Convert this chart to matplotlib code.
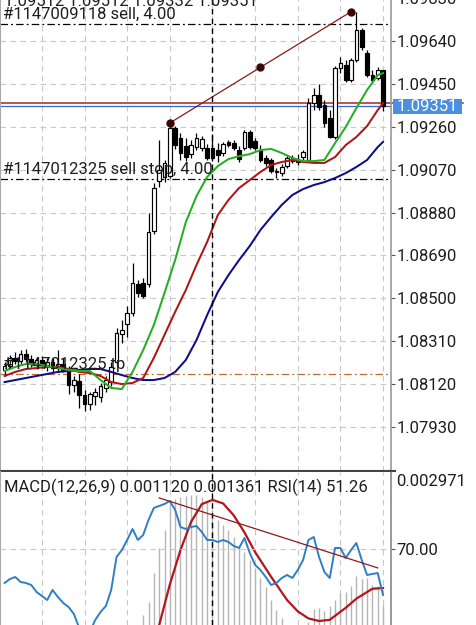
import numpy as np
import matplotlib
matplotlib.use("Agg")
import matplotlib.pyplot as plt
from matplotlib.lines import Line2D
from matplotlib.transforms import blended_transform_factory

plt.rcParams['font.family'] = ['Roboto', 'DejaVu Sans']

# ---- candles (oldest first) ----
opens = [
    1.08183, 1.08200, 1.08236, 1.08222, 1.08253, 1.08231, 1.08214, 1.08227, 1.08205, 1.08218,
    1.08191, 1.08209, 1.08178, 1.08116, 1.08134, 1.08072, 1.08032, 1.08067, 1.08063, 1.08103,
    1.08129, 1.08218, 1.08342, 1.08386, 1.08435, 1.08564, 1.08568, 1.08564, 1.08798, 1.09020,
    1.09038, 1.09042, 1.09255, 1.09210, 1.09175, 1.09139, 1.09170, 1.09166, 1.09166, 1.09166,
    1.09157, 1.09144, 1.09193, 1.09188, 1.09157, 1.09166, 1.09237, 1.09197, 1.09157, 1.09122,
    1.09113, 1.09064, 1.09055, 1.09086, 1.09108, 1.09113, 1.09126, 1.09113, 1.09365, 1.09401,
    1.09356, 1.09299, 1.09215, 1.09520, 1.09534, 1.09467, 1.09556, 1.09689, 1.09587, 1.09489,
    1.09476, 1.09512]
highs = [
    1.08218, 1.08249, 1.08262, 1.08271, 1.08276, 1.08249, 1.08240, 1.08245, 1.08236, 1.08236,
    1.08271, 1.08236, 1.08200, 1.08156, 1.08165, 1.08094, 1.08085, 1.08103, 1.08125, 1.08156,
    1.08218, 1.08369, 1.08404, 1.08466, 1.08657, 1.08581, 1.08590, 1.08878, 1.09011, 1.09201,
    1.09113, 1.09277, 1.09263, 1.09232, 1.09210, 1.09201, 1.09232, 1.09219, 1.09184, 1.09228,
    1.09188, 1.09193, 1.09201, 1.09201, 1.09175, 1.09246, 1.09246, 1.09210, 1.09179, 1.09135,
    1.09122, 1.09077, 1.09095, 1.09135, 1.09135, 1.09139, 1.09157, 1.09388, 1.09432, 1.09450,
    1.09379, 1.09334, 1.09529, 1.09569, 1.09556, 1.09565, 1.09768, 1.09698, 1.09600, 1.09512,
    1.09525, 1.09512]
lows = [
    1.08156, 1.08191, 1.08209, 1.08209, 1.08218, 1.08196, 1.08187, 1.08191, 1.08178, 1.08174,
    1.08174, 1.08174, 1.08076, 1.08085, 1.08014, 1.08001, 1.08005, 1.08028, 1.08041, 1.08085,
    1.08112, 1.08200, 1.08302, 1.08329, 1.08422, 1.08506, 1.08501, 1.08550, 1.08785, 1.08993,
    1.09015, 1.09033, 1.09162, 1.09113, 1.09108, 1.09122, 1.09157, 1.09153, 1.09113, 1.09108,
    1.09104, 1.09130, 1.09170, 1.09157, 1.09104, 1.09157, 1.09162, 1.09157, 1.09104, 1.09086,
    1.09055, 1.09033, 1.09042, 1.09077, 1.09100, 1.09091, 1.09113, 1.09104, 1.09334, 1.09334,
    1.09259, 1.09210, 1.09206, 1.09498, 1.09458, 1.09458, 1.09547, 1.09600, 1.09481, 1.09458,
    1.09467, 1.09332]
closes = [
    1.08200, 1.08236, 1.08222, 1.08253, 1.08231, 1.08214, 1.08227, 1.08205, 1.08218, 1.08191,
    1.08209, 1.08183, 1.08116, 1.08138, 1.08072, 1.08032, 1.08076, 1.08085, 1.08112, 1.08138,
    1.08196, 1.08346, 1.08360, 1.08435, 1.08568, 1.08524, 1.08510, 1.08794, 1.08989, 1.09069,
    1.09100, 1.09255, 1.09179, 1.09144, 1.09126, 1.09179, 1.09210, 1.09206, 1.09122, 1.09122,
    1.09135, 1.09184, 1.09179, 1.09166, 1.09117, 1.09237, 1.09170, 1.09166, 1.09113, 1.09100,
    1.09064, 1.09060, 1.09082, 1.09122, 1.09122, 1.09104, 1.09148, 1.09365, 1.09401, 1.09348,
    1.09277, 1.09215, 1.09520, 1.09543, 1.09467, 1.09556, 1.09689, 1.09613, 1.09489, 1.09467,
    1.09512, 1.09351]

# ---- moving averages, read every second candle ----
ma_idx = list(range(0, 71, 2)) + [71]
ma_fast = [
    1.08178, 1.08196, 1.08209, 1.08209, 1.08200, 1.08191, 1.08183, 1.08178, 1.08178, 1.08138,
    1.08103, 1.08098, 1.08174, 1.08271, 1.08382, 1.08524, 1.08670, 1.08838, 1.08953, 1.09038,
    1.09086, 1.09117, 1.09130, 1.09139, 1.09157, 1.09162, 1.09144, 1.09122, 1.09108, 1.09108,
    1.09113, 1.09188, 1.09259, 1.09343, 1.09423, 1.09489, 1.09498]
ma_mid = [
    1.08156, 1.08174, 1.08187, 1.08191, 1.08196, 1.08196, 1.08187, 1.08174, 1.08169, 1.08156,
    1.08129, 1.08120, 1.08125, 1.08147, 1.08236, 1.08338, 1.08440, 1.08537, 1.08648, 1.08750,
    1.08869, 1.08936, 1.08989, 1.09024, 1.09060, 1.09091, 1.09104, 1.09113, 1.09104, 1.09100,
    1.09100, 1.09126, 1.09179, 1.09215, 1.09263, 1.09334, 1.09365]
ma_slow = [
    1.08129, 1.08138, 1.08147, 1.08156, 1.08165, 1.08174, 1.08178, 1.08183, 1.08187, 1.08187,
    1.08174, 1.08160, 1.08147, 1.08138, 1.08138, 1.08147, 1.08174, 1.08227, 1.08315, 1.08426,
    1.08528, 1.08603, 1.08670, 1.08732, 1.08803, 1.08860, 1.08914, 1.08958, 1.08984, 1.09002,
    1.09015, 1.09033, 1.09055, 1.09082, 1.09113, 1.09170, 1.09193]

# ---- orders, trend line, price scale ----
sell_level = 1.09715
stop_level = 1.09029
tp_level = 1.08165
ask = 1.09365
bid = 1.09351
trend_idx = [31, 65]
trend_px = [1.09277, 1.09770]
price_ticks = [1.07930, 1.08120, 1.08310, 1.08500, 1.08690, 1.08880,
               1.09070, 1.09260, 1.09450, 1.09640, 1.09830]
cursor_idx = 39

# ---- MACD(12,26,9) and RSI(14) ----
macd_hist = [
    0.00045, 0.00048, 0.00050, 0.00052, 0.00053, 0.00052, 0.00050, 0.00047, 0.00045, 0.00042,
    0.00040, 0.00037, 0.00030, 0.00022, 0.00012, 0.00002, -0.00005, -0.00008, -0.00006, 0.00000,
    0.00010, 0.00025, 0.00040, 0.00055, 0.00068, 0.00078, 0.000978, 0.001163, 0.001574, 0.001928,
    0.002183, 0.002566, 0.002623, 0.002651, 0.002665, 0.002679, 0.002679, 0.002651, 0.002580, 0.002467,
    0.002325, 0.002254, 0.002183, 0.002084, 0.001971, 0.001871, 0.001758, 0.001645, 0.001503, 0.001375,
    0.001191, 0.001049, 0.000936, 0.000800, 0.000750, 0.000730, 0.000760, 0.000879, 0.001063, 0.001077,
    0.001035, 0.001106, 0.001191, 0.001290, 0.001304, 0.001389, 0.001531, 0.001489, 0.001503, 0.001404,
    0.001389, 0.001120]
sig_idx = [29, 31, 33, 35, 37, 39, 41, 43, 45, 47, 50, 53, 55, 57, 59, 61, 64, 66, 69, 71]
macd_signal = [0.000836, 0.00141, 0.00190, 0.00230, 0.00255, 0.00261, 0.00256, 0.00239, 0.00215, 0.00187,
               0.00152, 0.00119, 0.00103, 0.00093, 0.000893, 0.00091, 0.00108, 0.00121, 0.00135, 0.001361]
rsi = [
    56.15, 57.78, 58.59, 56.56, 56.15, 55.34, 52.48, 50.86, 49.23, 53.30,
    50.45, 48.00, 46.37, 43.52, 37.82, 34.97, 36.19, 41.08, 44.34, 46.78,
    53.30, 66.74, 69.59, 73.67, 78.15, 73.67, 75.70, 81.81, 86.70, 87.52,
    88.33, 89.55, 85.89, 78.96, 78.15, 78.96, 79.37, 76.92, 73.67, 73.67,
    72.85, 73.67, 72.85, 71.22, 70.41, 74.48, 68.37, 63.48, 61.45, 58.59,
    55.34, 56.15, 58.19, 59.41, 58.19, 61.45, 65.52, 73.67, 74.89, 66.74,
    60.63, 58.19, 70.41, 70.41, 66.33, 69.59, 72.44, 65.52, 59.41, 59.82,
    60.22, 51.26]
rsi_trend_idx = [29, 70]
rsi_trend = [90.8, 62.3]

# ---- layout (pixels) ----
W, H = 476, 625
plot_right = 391
step, first_x = 5.33, 4.6


def fx(px):
    return px / W


def fy(py):
    return 1 - py / H


fig = plt.figure(figsize=(W / 100, H / 100), dpi=100)
ax = fig.add_axes([0, fy(471), fx(plot_right), fy(-5) - fy(471)])
ax2 = fig.add_axes([0, 0, fx(plot_right), fy(472)])
xlim = (-first_x / step, (plot_right - first_x) / step)
grid_style = dict(color='#c8c8c8', lw=0.8, ls=(0, (5, 4)), zorder=0.5)
text_col = '#1e1e1e'

# main window
ax.set_xlim(*xlim)
ax.set_ylim(1.07735, 1.09844)
for t in price_ticks:
    ax.axhline(t, **grid_style)
for g in range(7, 72, 8):
    ax.axvline(g, **grid_style)
    ax2.axvline(g, **grid_style)

ax.axhline(sell_level, color='black', lw=0.9, ls=(0, (6, 2.5, 1.5, 2.5)), zorder=1)
ax.axhline(stop_level, color='black', lw=0.9, ls=(0, (6, 2.5, 1.5, 2.5)), zorder=1)
ax.axhline(tp_level, color='#bf6a33', lw=0.9, ls=(0, (6, 2.5, 1.5, 2.5)), zorder=1)

o, h, l, c = map(np.array, (opens, highs, lows, closes))
idx = np.arange(len(c))
ax.vlines(idx, l, h, color='black', lw=0.9, zorder=2)
ax.bar(idx, np.abs(c - o), bottom=np.minimum(o, c), width=0.7,
       color=np.where(c >= o, 'white', 'black'), edgecolor='black', linewidth=0.85, zorder=3)

ax.plot(ma_idx, ma_slow, color='#0d0d8c', lw=1.45, zorder=4)
ax.plot(ma_idx, ma_mid, color='#b01515', lw=1.45, zorder=4)
ax.plot(ma_idx, ma_fast, color='#22b022', lw=1.45, zorder=4)

ax.plot(trend_idx, trend_px, color='#8b1a1a', lw=0.9, zorder=5)
ax.plot([trend_idx[0], np.mean(trend_idx), trend_idx[1]],
        [trend_px[0], np.mean(trend_px), trend_px[1]],
        'o', ms=5, color='#3d0606', zorder=6)

blend = blended_transform_factory(ax.transAxes, ax.transData)
ax.axhline(bid, color='#3d64c8', lw=0.9, zorder=1.5)
ax.plot([0, 463 / plot_right], [ask, ask], transform=blend, color='#a82424',
        lw=1.1, clip_on=False, zorder=1.6)
ax.text(393 / plot_right, bid, ' 1.09351 ', transform=blend, va='center', ha='left',
        color='white', fontsize=12, clip_on=False, zorder=10,
        bbox=dict(boxstyle='square,pad=0', fc='#4a8fe0', ec='none'))

for label, level in [('#1147009118 sell, 4.00', sell_level),
                     ('#1147012325 sell stop, 4.00', stop_level),
                     ('#1147012325 tp', tp_level)]:
    ax.annotate(label, xy=(0, level), xycoords=blend, xytext=(3, 5),
                textcoords='offset pixels', va='baseline', ha='left',
                fontsize=12, color=text_col, zorder=9)

ax.axvline(cursor_idx, color='black', lw=1.0, ls=(0, (4, 3)), zorder=7)

ax.yaxis.tick_right()
ax.set_yticks(price_ticks)
ax.set_yticklabels([f"{t:.5f}" for t in price_ticks])
ax.set_xticks([])
ax.tick_params(axis='y', direction='out', length=3, width=0.8, colors='#555555',
               labelcolor=text_col, labelsize=12, pad=1)
ax.spines['top'].set_visible(False)
ax.spines['bottom'].set_color('#444444')
ax.spines['bottom'].set_linewidth(1.5)
ax.spines['left'].set_color('#aaaaaa')
ax.spines['left'].set_linewidth(1.5)
ax.spines['right'].set_color('#999999')
ax.spines['right'].set_linewidth(1.2)

# indicator window
ax2.set_xlim(*xlim)
ax2.set_ylim(0.0008365, 0.0030055)
ax2.vlines(idx, 0, macd_hist, color='#b5b5b5', lw=1.0, zorder=1)
ax2.plot(sig_idx, macd_signal, color='#b3161c', lw=1.6, zorder=3)
ax2.axvline(cursor_idx, color='black', lw=1.0, ls=(0, (4, 3)), zorder=4)
ax2.set_xticks([])
ax2.set_yticks([])
for side in ['top', 'bottom']:
    ax2.spines[side].set_visible(False)
ax2.spines['left'].set_color('#aaaaaa')
ax2.spines['left'].set_linewidth(1.5)
ax2.spines['right'].set_color('#999999')
ax2.spines['right'].set_linewidth(1.2)

ax3 = ax2.twinx()
ax3.set_ylim(39.04, 101.36)
ax3.axhline(70, **grid_style)
ax3.plot(idx, rsi, color='#2f7fc4', lw=1.4, zorder=3)
ax3.plot(rsi_trend_idx, rsi_trend, color='#8b1a1a', lw=0.9, zorder=4)
ax3.set_yticks([70])
ax3.set_yticklabels(['70.00'])
ax3.tick_params(axis='y', direction='out', length=3, width=0.8, colors='#555555',
                labelcolor=text_col, labelsize=12, pad=1)
for side in ['top', 'bottom', 'left']:
    ax3.spines[side].set_visible(False)
ax3.spines['right'].set_color('#999999')
ax3.spines['right'].set_linewidth(1.2)

fig.add_artist(Line2D([fx(plot_right), fx(395)], [fy(471), fy(471)],
                      transform=fig.transFigure, color='#444444', lw=1.5))
fig.text(fx(396), fy(481), '0.002971', va='center', ha='left', fontsize=12, color=text_col)
fig.text(fx(4), fy(6.5), '1.09512 1.09512 1.09332 1.09351', va='baseline', ha='left',
         fontsize=12, color=text_col)
fig.text(fx(4), fy(492), 'MACD(12,26,9) 0.001120 0.001361 RSI(14) 51.26', va='baseline',
         ha='left', fontsize=12, color=text_col)

fig.savefig('out.png', dpi=100, facecolor='white')
